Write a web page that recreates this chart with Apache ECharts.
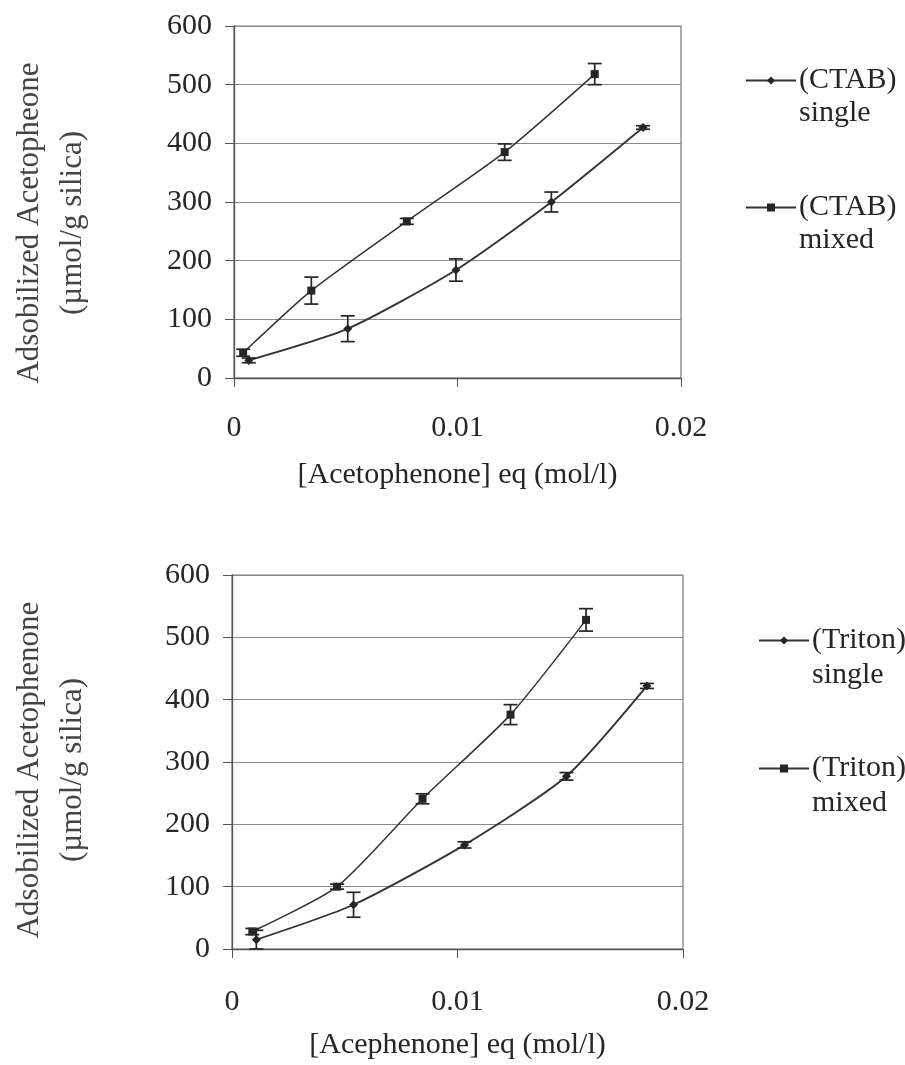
<!DOCTYPE html>
<html>
<head>
<meta charset="utf-8">
<script src="https://cdn.jsdelivr.net/npm/echarts@6/dist/echarts.min.js"></script>
<style>
  html, body { margin: 0; padding: 0; background: #fff; }
  #chart { width: 905px; height: 1065px; }
</style>
</head>
<body>
<div id="chart"></div>
<script>
// --- data --- //
// top panel: CTAB
const ctabSingleX = [0.00066, 0.00509, 0.00993, 0.0142, 0.0183];
const ctabSingleY = [30, 84, 184, 300, 427];
const ctabSingleErr = [4, 22, 19, 17, 3];
const ctabMixedX = [0.00041, 0.00346, 0.00773, 0.01211, 0.01614];
const ctabMixedY = [43, 149, 267, 385, 518];
const ctabMixedErr = [6, 23, 5, 14, 18];

// bottom panel: Triton
const tritonSingleX = [0.00108, 0.00539, 0.01031, 0.01483, 0.0184];
const tritonSingleY = [15, 71, 167, 277, 422];
const tritonSingleErr = [15, 20, 5, 6, 4];
const tritonMixedX = [0.0009, 0.00466, 0.00845, 0.01235, 0.0157];
const tritonMixedY = [28, 100, 241, 376, 528];
const tritonMixedErr = [5, 4, 8, 16, 18];

const xTicks = [0, 0.01, 0.02];
const yTicks = [0, 100, 200, 300, 400, 500, 600];

const FONT = "'Liberation Serif', 'Times New Roman', serif";
const INK = '#262626';

function pairs(xs, ys) { return xs.map((x, i) => [x, ys[i]]); }
function triples(xs, ys, es) { return xs.map((x, i) => [x, ys[i], es[i]]); }

// error bars drawn through the axis scale
function renderErr(params, api) {
  const x = api.value(0), y = api.value(1), e = api.value(2);
  const top = api.coord([x, y + e]);
  const bot = api.coord([x, y - e]);
  const w = 7;
  const style = { stroke: INK, lineWidth: 1.7 };
  return {
    type: 'group',
    children: [
      { type: 'line', shape: { x1: top[0], y1: top[1], x2: bot[0], y2: bot[1] }, style: style },
      { type: 'line', shape: { x1: top[0] - w, y1: top[1], x2: top[0] + w, y2: top[1] }, style: style },
      { type: 'line', shape: { x1: bot[0] - w, y1: bot[1], x2: bot[0] + w, y2: bot[1] }, style: style }
    ]
  };
}

function lineSeries(name, idx, data, symbol, size, width) {
  return {
    name: name, type: 'line', xAxisIndex: idx, yAxisIndex: idx,
    data: data, smooth: 0.22, symbol: symbol, symbolSize: size,
    lineStyle: { color: '#333', width: width },
    itemStyle: { color: INK },
    z: 3
  };
}
function errSeries(idx, data) {
  return {
    type: 'custom', xAxisIndex: idx, yAxisIndex: idx,
    renderItem: renderErr, data: data,
    encode: { x: 0, y: 1 }, z: 4, silent: true
  };
}

function xAxis(idx, name, margin, gap) {
  return {
    gridIndex: idx, type: 'value', min: xTicks[0], max: xTicks[xTicks.length - 1], interval: 0.01,
    name: name, nameLocation: 'middle', nameGap: gap,
    nameTextStyle: { fontFamily: FONT, fontSize: 30, color: INK },
    axisLine: { lineStyle: { color: '#555', width: 1.3 } },
    axisTick: { show: true, inside: false, length: 9, lineStyle: { color: '#555' } },
    axisLabel: { fontFamily: FONT, fontSize: 30, color: INK, margin: margin },
    splitLine: { show: false }
  };
}
function yAxis(idx, name, gap, pad) {
  return {
    gridIndex: idx, type: 'value', min: yTicks[0], max: yTicks[yTicks.length - 1], interval: 100,
    name: name, nameLocation: 'middle', nameGap: gap, nameRotate: 90,
    nameTextStyle: { fontFamily: FONT, fontSize: 31, color: '#444', lineHeight: 43, padding: pad },
    axisLine: { show: true, lineStyle: { color: '#555', width: 1.3 } },
    axisTick: { show: true, inside: false, length: 9, lineStyle: { color: '#555' } },
    axisLabel: { fontFamily: FONT, fontSize: 30, color: INK, margin: 22 },
    splitLine: { show: true, lineStyle: { color: '#8a8a8a', width: 1 } }
  };
}

const legendNames = {
  'CTAB single': '\n(CTAB)\nsingle',
  'CTAB mixed': '\n(CTAB)\nmixed',
  'Triton single': '\n(Triton)\nsingle',
  'Triton mixed': '\n(Triton)\nmixed'
};
function legend(names, left, top, lh, gap) {
  return {
    data: names, orient: 'vertical', left: left, top: top,
    itemWidth: 50, itemHeight: 10, itemGap: gap,
    formatter: n => legendNames[n],
    textStyle: { fontFamily: FONT, fontSize: 30, color: INK, lineHeight: lh, padding: [0, 0, 0, -2] },
    selectedMode: false
  };
}

const chart = echarts.init(document.getElementById('chart'), null, { renderer: 'canvas' });
chart.setOption({
  animation: false,
  backgroundColor: '#fff',
  grid: [
    { left: 227, top: 26, width: 454, height: 352, show: true, borderColor: '#777', borderWidth: 1.2 },
    { left: 226, top: 575, width: 457, height: 374, show: true, borderColor: '#777', borderWidth: 1.2 }
  ],
  xAxis: [
    xAxis(0, '[Acetophenone] eq (mol/l)', 35, 82),
    xAxis(1, '[Acephenone] eq (mol/l)', 38, 81)
  ],
  yAxis: [
    yAxis(0, 'Adsobilized Acetopheone\n(µmol/g silica)', 140, [0, 42, 0, 0]),
    yAxis(1, 'Adsobilized Acetophenone\n(µmol/g silica)', 138, [0, 16, 0, 0])
  ],
  legend: [
    legend(['CTAB single', 'CTAB mixed'], 740, 26, 33, 28),
    legend(['Triton single', 'Triton mixed'], 753, 583, 35, 23)
  ],
  series: [
    lineSeries('CTAB single', 0, pairs(ctabSingleX, ctabSingleY), 'diamond', 9, 1.9),
    lineSeries('CTAB mixed', 0, pairs(ctabMixedX, ctabMixedY), 'rect', 8, 1.5),
    errSeries(0, triples(ctabSingleX, ctabSingleY, ctabSingleErr)),
    errSeries(0, triples(ctabMixedX, ctabMixedY, ctabMixedErr)),
    lineSeries('Triton single', 1, pairs(tritonSingleX, tritonSingleY), 'diamond', 9, 1.9),
    lineSeries('Triton mixed', 1, pairs(tritonMixedX, tritonMixedY), 'rect', 8, 1.5),
    errSeries(1, triples(tritonSingleX, tritonSingleY, tritonSingleErr)),
    errSeries(1, triples(tritonMixedX, tritonMixedY, tritonMixedErr))
  ]
});
</script>
</body>
</html>
